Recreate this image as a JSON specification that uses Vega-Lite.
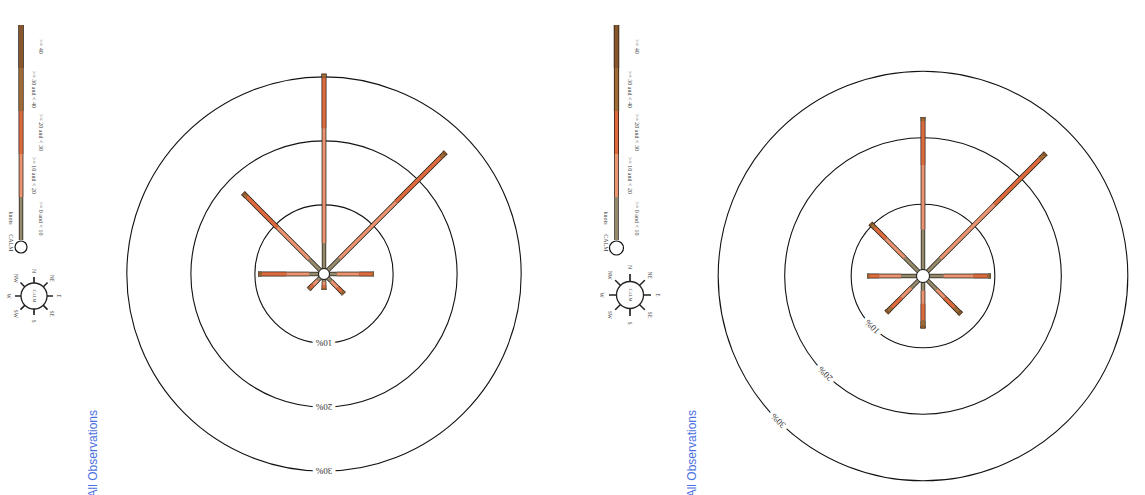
{
"$schema":"https://vega.github.io/schema/vega-lite/v6.json",
"padding":0,"spacing":0,"bounds":"flush","background":"white",
"config":{"view":{"stroke":null}},
"datasets":{
"rings":[{"ring":10,"lab":"10%"},{"ring":20,"lab":"20%"},{"ring":30,"lab":"30%"}],
"dirs":[{"dir":"N","deg":0},{"dir":"NE","deg":45},{"dir":"E","deg":90},{"dir":"SE","deg":135},{"dir":"S","deg":180},{"dir":"SW","deg":225},{"dir":"W","deg":270},{"dir":"NW","deg":315}],
"legend":[{"band":1,"lo":0,"hi":10,"label":">= 0 and < 10"},{"band":2,"lo":10,"hi":20,"label":">= 10 and < 20"},{"band":3,"lo":20,"hi":30,"label":">= 20 and < 30"},{"band":4,"lo":30,"hi":40,"label":">= 30 and < 40"},{"band":5,"lo":40,"hi":50,"label":">= 40"}],
"rose1":[
{"dir":"N","deg":0,"band":1,"pct":4.0},{"dir":"N","deg":0,"band":2,"pct":18.0},{"dir":"N","deg":0,"band":3,"pct":7.9},{"dir":"N","deg":0,"band":4,"pct":0.4},{"dir":"N","deg":0,"band":5,"pct":0.2},
{"dir":"NE","deg":45,"band":1,"pct":2.6},{"dir":"NE","deg":45,"band":2,"pct":12.5},{"dir":"NE","deg":45,"band":3,"pct":9.9},{"dir":"NE","deg":45,"band":4,"pct":0.7},{"dir":"NE","deg":45,"band":5,"pct":0.4},
{"dir":"E","deg":90,"band":1,"pct":1.2},{"dir":"E","deg":90,"band":2,"pct":3.5},{"dir":"E","deg":90,"band":3,"pct":2.0},{"dir":"E","deg":90,"band":4,"pct":0.2},{"dir":"E","deg":90,"band":5,"pct":0.1},
{"dir":"SE","deg":135,"band":1,"pct":0.8},{"dir":"SE","deg":135,"band":2,"pct":1.4},{"dir":"SE","deg":135,"band":3,"pct":0.9},{"dir":"SE","deg":135,"band":4,"pct":0.3},{"dir":"SE","deg":135,"band":5,"pct":0.2},
{"dir":"S","deg":180,"band":1,"pct":0.4},{"dir":"S","deg":180,"band":2,"pct":0.6},{"dir":"S","deg":180,"band":3,"pct":0.4},{"dir":"S","deg":180,"band":4,"pct":0.2},{"dir":"S","deg":180,"band":5,"pct":0.1},
{"dir":"SW","deg":225,"band":1,"pct":0.6},{"dir":"SW","deg":225,"band":2,"pct":1.0},{"dir":"SW","deg":225,"band":3,"pct":0.6},{"dir":"SW","deg":225,"band":4,"pct":0.3},{"dir":"SW","deg":225,"band":5,"pct":0.1},
{"dir":"W","deg":270,"band":1,"pct":1.5},{"dir":"W","deg":270,"band":2,"pct":3.6},{"dir":"W","deg":270,"band":3,"pct":3.8},{"dir":"W","deg":270,"band":4,"pct":0.4},{"dir":"W","deg":270,"band":5,"pct":0.2},
{"dir":"NW","deg":315,"band":1,"pct":2.5},{"dir":"NW","deg":315,"band":2,"pct":7.0},{"dir":"NW","deg":315,"band":3,"pct":6.8},{"dir":"NW","deg":315,"band":4,"pct":0.5},{"dir":"NW","deg":315,"band":5,"pct":0.3}],
"rose2":[
{"dir":"N","deg":0,"band":1,"pct":6.2},{"dir":"N","deg":0,"band":2,"pct":9.7},{"dir":"N","deg":0,"band":3,"pct":6.6},{"dir":"N","deg":0,"band":4,"pct":0.4},{"dir":"N","deg":0,"band":5,"pct":0.2},
{"dir":"NE","deg":45,"band":1,"pct":2.9},{"dir":"NE","deg":45,"band":2,"pct":11.5},{"dir":"NE","deg":45,"band":3,"pct":9.7},{"dir":"NE","deg":45,"band":4,"pct":0.8},{"dir":"NE","deg":45,"band":5,"pct":0.4},
{"dir":"E","deg":90,"band":1,"pct":2.3},{"dir":"E","deg":90,"band":2,"pct":4.5},{"dir":"E","deg":90,"band":3,"pct":2.1},{"dir":"E","deg":90,"band":4,"pct":0.3},{"dir":"E","deg":90,"band":5,"pct":0.2},
{"dir":"SE","deg":135,"band":1,"pct":2.1},{"dir":"SE","deg":135,"band":2,"pct":1.7},{"dir":"SE","deg":135,"band":3,"pct":2.1},{"dir":"SE","deg":135,"band":4,"pct":0.9},{"dir":"SE","deg":135,"band":5,"pct":0.5},
{"dir":"S","deg":180,"band":1,"pct":1.4},{"dir":"S","deg":180,"band":2,"pct":2.0},{"dir":"S","deg":180,"band":3,"pct":2.5},{"dir":"S","deg":180,"band":4,"pct":0.8},{"dir":"S","deg":180,"band":5,"pct":0.4},
{"dir":"SW","deg":225,"band":1,"pct":1.7},{"dir":"SW","deg":225,"band":2,"pct":2.1},{"dir":"SW","deg":225,"band":3,"pct":2.1},{"dir":"SW","deg":225,"band":4,"pct":0.7},{"dir":"SW","deg":225,"band":5,"pct":0.4},
{"dir":"W","deg":270,"band":1,"pct":2.5},{"dir":"W","deg":270,"band":2,"pct":3.3},{"dir":"W","deg":270,"band":3,"pct":1.5},{"dir":"W","deg":270,"band":4,"pct":0.2},{"dir":"W","deg":270,"band":5,"pct":0.1},
{"dir":"NW","deg":315,"band":1,"pct":3.1},{"dir":"NW","deg":315,"band":2,"pct":4.0},{"dir":"NW","deg":315,"band":3,"pct":2.4},{"dir":"NW","deg":315,"band":4,"pct":0.6},{"dir":"NW","deg":315,"band":5,"pct":0.3}]
},
"hconcat":[
{"width":590,"height":495,
 "resolve":{"scale":{"y":"independent"}},
 "layer":[
  {"layer":[
   {"data":{"name":"rings"},
    "transform":[{"calculate":"datum.ring+0.8","as":"rr"}],
    "mark":{"type":"arc","theta":0,"theta2":6.2832,"fill":"transparent","stroke":"#111","strokeWidth":1.1},
    "encoding":{
     "x":{"datum":0,"type":"quantitative","scale":{"domain":[-50.625,41.5625],"nice":false,"zero":false},"axis":null},
     "y":{"datum":0,"type":"quantitative","scale":{"domain":[-34.53,42.8125],"nice":false,"zero":false},"axis":null},
     "radius":{"field":"rr","type":"quantitative","stack":null,"scale":{"type":"linear","domain":[0,40],"range":[0,256],"zero":true},"legend":null}}},
   {"data":{"name":"rings"},
    "transform":[{"calculate":"0","as":"lx"},{"calculate":"-(datum.ring+0.8)","as":"ly"}],
    "mark":{"type":"text","angle":180,"font":"Liberation Serif","fontSize":9,"fill":"white","stroke":"white","strokeWidth":7,"align":"center","baseline":"middle"},
    "encoding":{
     "x":{"field":"lx","type":"quantitative","scale":{"domain":[-50.625,41.5625],"nice":false,"zero":false},"axis":null},
     "y":{"field":"ly","type":"quantitative","scale":{"domain":[-34.53,42.8125],"nice":false,"zero":false},"axis":null},
     "text":{"field":"lab"}}},
   {"data":{"name":"rings"},
    "transform":[{"calculate":"0","as":"lx"},{"calculate":"-(datum.ring+0.8)","as":"ly"}],
    "mark":{"type":"text","angle":180,"font":"Liberation Serif","fontSize":9,"fill":"#333","align":"center","baseline":"middle"},
    "encoding":{
     "x":{"field":"lx","type":"quantitative","scale":{"domain":[-50.625,41.5625],"nice":false,"zero":false},"axis":null},
     "y":{"field":"ly","type":"quantitative","scale":{"domain":[-34.53,42.8125],"nice":false,"zero":false},"axis":null},
     "text":{"field":"lab"}}},
   {"data":{"name":"rose1"},
    "transform":[
     {"stack":"pct","groupby":["dir"],"sort":[{"field":"band"}],"as":["p0","p1"]},
     {"calculate":"(datum.p0+0.8)*sin(datum.deg*PI/180)","as":"x0"},
     {"calculate":"(datum.p0+0.8)*cos(datum.deg*PI/180)","as":"y0"},
     {"calculate":"(datum.p1+0.8)*sin(datum.deg*PI/180)","as":"x1"},
     {"calculate":"(datum.p1+0.8)*cos(datum.deg*PI/180)","as":"y1"},
     {"calculate":"datum.band+10","as":"bandO"}],
    "layer":[
     {"mark":{"type":"rule","strokeCap":"butt","color":"#1a1410"},
      "encoding":{
       "x":{"field":"x0","type":"quantitative","scale":{"domain":[-50.625,41.5625],"nice":false,"zero":false},"axis":null},
       "y":{"field":"y0","type":"quantitative","scale":{"domain":[-34.53,42.8125],"nice":false,"zero":false},"axis":null},
       "x2":{"field":"x1"},"y2":{"field":"y1"},
       "strokeWidth":{"field":"bandO","type":"ordinal","scale":{"domain":[1,2,3,4,5,11,12,13,14,15],"range":[3,5.5,8.5,12,14.5,4.6,7.1,10.1,13.6,16.1]},"legend":null}}},
     {"mark":{"type":"rule","strokeCap":"butt"},
      "encoding":{
       "x":{"field":"x0","type":"quantitative","scale":{"domain":[-50.625,41.5625],"nice":false,"zero":false},"axis":null},
       "y":{"field":"y0","type":"quantitative","scale":{"domain":[-34.53,42.8125],"nice":false,"zero":false},"axis":null},
       "x2":{"field":"x1"},"y2":{"field":"y1"},
       "strokeWidth":{"field":"band","type":"ordinal","scale":{"domain":[1,2,3,4,5,11,12,13,14,15],"range":[3,5.5,8.5,12,14.5,4.6,7.1,10.1,13.6,16.1]},"legend":null},
       "color":{"field":"band","type":"ordinal","scale":{"domain":[1,2,3,4,5],"range":["#958a6c","#eb9470","#dc6a3c","#a06a35","#87562b"]},"legend":null}}}]},
   {"data":{"values":[{"c":1}]},
    "mark":{"type":"point","shape":"circle","size":121,"filled":true,"fill":"white","stroke":"#111","strokeWidth":1,"opacity":1},
    "encoding":{
     "x":{"datum":0,"type":"quantitative","scale":{"domain":[-50.625,41.5625],"nice":false,"zero":false},"axis":null},
     "y":{"datum":0,"type":"quantitative","scale":{"domain":[-34.53,42.8125],"nice":false,"zero":false},"axis":null}}},
   {"data":{"name":"dirs"},
    "mark":{"type":"point","shape":"stroke","size":1444,"strokeWidth":1.2,"color":"#222","opacity":1},
    "encoding":{
     "x":{"datum":-45.31,"type":"quantitative","scale":{"domain":[-50.625,41.5625],"nice":false,"zero":false},"axis":null},
     "y":{"datum":-3.44,"type":"quantitative","scale":{"domain":[-34.53,42.8125],"nice":false,"zero":false},"axis":null},
     "angle":{"field":"deg","type":"quantitative","scale":{"domain":[0,360],"range":[90,450]},"legend":null}}},
   {"data":{"values":[{"c":1}]},
    "mark":{"type":"point","shape":"circle","size":676,"filled":true,"fill":"white","stroke":"#222","strokeWidth":1.3,"opacity":1},
    "encoding":{
     "x":{"datum":-45.31,"type":"quantitative","scale":{"domain":[-50.625,41.5625],"nice":false,"zero":false},"axis":null},
     "y":{"datum":-3.44,"type":"quantitative","scale":{"domain":[-34.53,42.8125],"nice":false,"zero":false},"axis":null}}},
   {"data":{"name":"dirs"},
    "mark":{"type":"text","radius":25,"angle":90,"fontSize":5.5,"font":"Liberation Serif","color":"#444","align":"center","baseline":"middle"},
    "encoding":{
     "x":{"datum":-45.31,"type":"quantitative","scale":{"domain":[-50.625,41.5625],"nice":false,"zero":false},"axis":null},
     "y":{"datum":-3.44,"type":"quantitative","scale":{"domain":[-34.53,42.8125],"nice":false,"zero":false},"axis":null},
     "theta":{"field":"deg","type":"quantitative","stack":null,"scale":{"domain":[0,360],"range":[0,6.2832]}},
     "text":{"field":"dir"}}},
   {"data":{"values":[{"t":"CALM"}]},
    "mark":{"type":"text","angle":90,"fontSize":4.5,"font":"Liberation Serif","color":"#555","align":"center","baseline":"middle"},
    "encoding":{
     "x":{"datum":-45.31,"type":"quantitative","scale":{"domain":[-50.625,41.5625],"nice":false,"zero":false},"axis":null},
     "y":{"datum":-3.44,"type":"quantitative","scale":{"domain":[-34.53,42.8125],"nice":false,"zero":false},"axis":null},
     "text":{"field":"t"}}},
   {"data":{"values":[{"t":"All Observations"}]},
    "mark":{"type":"text","angle":270,"fontSize":12,"font":"Liberation Sans","color":"#4a6fe0","align":"right","baseline":"middle"},
    "encoding":{
     "x":{"datum":-36.1,"type":"quantitative","scale":{"domain":[-50.625,41.5625],"nice":false,"zero":false},"axis":null},
     "y":{"datum":-21.25,"type":"quantitative","scale":{"domain":[-34.53,42.8125],"nice":false,"zero":false},"axis":null},
     "text":{"field":"t"}}}
  ]},
  {"data":{"name":"legend"},
   "transform":[{"calculate":"(datum.lo+datum.hi)/2","as":"mid"},{"calculate":"datum.band+10","as":"bandO"}],
   "layer":[
    {"mark":{"type":"rule","strokeCap":"butt","color":"#1a1410"},
     "encoding":{
      "x":{"datum":-47.34,"type":"quantitative","scale":{"domain":[-50.625,41.5625],"nice":false,"zero":false},"axis":null},
      "y":{"field":"lo","type":"quantitative","scale":{"domain":[0,50],"range":[240,25],"nice":false,"zero":false},"axis":null},
      "y2":{"field":"hi"},
      "strokeWidth":{"field":"bandO","type":"ordinal","scale":{"domain":[1,2,3,4,5,11,12,13,14,15],"range":[3,5.5,8.5,12,14.5,4.6,7.1,10.1,13.6,16.1]},"legend":null}}},
    {"mark":{"type":"rule","strokeCap":"butt"},
     "encoding":{
      "x":{"datum":-47.34,"type":"quantitative","scale":{"domain":[-50.625,41.5625],"nice":false,"zero":false},"axis":null},
      "y":{"field":"lo","type":"quantitative","scale":{"domain":[0,50],"range":[240,25],"nice":false,"zero":false},"axis":null},
      "y2":{"field":"hi"},
      "strokeWidth":{"field":"band","type":"ordinal","scale":{"domain":[1,2,3,4,5,11,12,13,14,15],"range":[3,5.5,8.5,12,14.5,4.6,7.1,10.1,13.6,16.1]},"legend":null},
      "color":{"field":"band","type":"ordinal","scale":{"domain":[1,2,3,4,5],"range":["#958a6c","#eb9470","#dc6a3c","#a06a35","#87562b"]},"legend":null}}},
    {"transform":[{"filter":"datum.band % 2 == 1"}],
     "mark":{"type":"text","angle":90,"fontSize":6,"font":"Liberation Serif","color":"#444","align":"center","baseline":"middle"},
     "encoding":{
      "x":{"datum":-44.22,"type":"quantitative","scale":{"domain":[-50.625,41.5625],"nice":false,"zero":false},"axis":null},
      "y":{"field":"mid","type":"quantitative","scale":{"domain":[0,50],"range":[240,25],"nice":false,"zero":false},"axis":null},
      "text":{"field":"label"}}},
    {"transform":[{"filter":"datum.band % 2 == 0"}],
     "mark":{"type":"text","angle":90,"fontSize":6,"font":"Liberation Serif","color":"#444","align":"center","baseline":"middle"},
     "encoding":{
      "x":{"datum":-45.31,"type":"quantitative","scale":{"domain":[-50.625,41.5625],"nice":false,"zero":false},"axis":null},
      "y":{"field":"mid","type":"quantitative","scale":{"domain":[0,50],"range":[240,25],"nice":false,"zero":false},"axis":null},
      "text":{"field":"label"}}},
    {"data":{"values":[{"c":1}]},
     "mark":{"type":"point","shape":"circle","size":144,"filled":true,"fill":"white","stroke":"#111","strokeWidth":1.2,"opacity":1},
     "encoding":{
      "x":{"datum":-47.34,"type":"quantitative","scale":{"domain":[-50.625,41.5625],"nice":false,"zero":false},"axis":null},
      "y":{"datum":-1.63,"type":"quantitative","scale":{"domain":[0,50],"range":[240,25],"nice":false,"zero":false},"axis":null}}},
    {"data":{"values":[{"t":"knots","yy":5.1},{"t":"CALM","yy":-0.7}]},
     "mark":{"type":"text","angle":90,"fontSize":6,"font":"Liberation Serif","color":"#444","align":"center","baseline":"middle"},
     "encoding":{
      "x":{"datum":-48.91,"type":"quantitative","scale":{"domain":[-50.625,41.5625],"nice":false,"zero":false},"axis":null},
      "y":{"field":"yy","type":"quantitative","scale":{"domain":[0,50],"range":[240,25],"nice":false,"zero":false},"axis":null},
      "text":{"field":"t"}}}
   ]}
 ]},
{"width":555,"height":495,
 "resolve":{"scale":{"y":"independent"}},
 "layer":[
  {"layer":[
   {"data":{"name":"rings"},
    "transform":[{"calculate":"datum.ring+0.8","as":"rr"}],
    "mark":{"type":"arc","theta":0,"theta2":6.2832,"fill":"transparent","stroke":"#111","strokeWidth":1.1},
    "encoding":{
     "x":{"datum":0,"type":"quantitative","scale":{"domain":[-50.075,33.383],"nice":false,"zero":false},"axis":null},
     "y":{"datum":0,"type":"quantitative","scale":{"domain":[-32.932,41.504],"nice":false,"zero":false},"axis":null},
     "radius":{"field":"rr","type":"quantitative","stack":null,"scale":{"type":"linear","domain":[0,40],"range":[0,266],"zero":true},"legend":null}}},
   {"data":{"name":"rings"},
    "transform":[{"calculate":"-(datum.ring+0.8)*0.7071","as":"lx"},{"calculate":"-(datum.ring+0.8)*0.7071","as":"ly"}],
    "mark":{"type":"text","angle":225,"font":"Liberation Serif","fontSize":9,"fill":"white","stroke":"white","strokeWidth":7,"align":"center","baseline":"middle"},
    "encoding":{
     "x":{"field":"lx","type":"quantitative","scale":{"domain":[-50.075,33.383],"nice":false,"zero":false},"axis":null},
     "y":{"field":"ly","type":"quantitative","scale":{"domain":[-32.932,41.504],"nice":false,"zero":false},"axis":null},
     "text":{"field":"lab"}}},
   {"data":{"name":"rings"},
    "transform":[{"calculate":"-(datum.ring+0.8)*0.7071","as":"lx"},{"calculate":"-(datum.ring+0.8)*0.7071","as":"ly"}],
    "mark":{"type":"text","angle":225,"font":"Liberation Serif","fontSize":9,"fill":"#333","align":"center","baseline":"middle"},
    "encoding":{
     "x":{"field":"lx","type":"quantitative","scale":{"domain":[-50.075,33.383],"nice":false,"zero":false},"axis":null},
     "y":{"field":"ly","type":"quantitative","scale":{"domain":[-32.932,41.504],"nice":false,"zero":false},"axis":null},
     "text":{"field":"lab"}}},
   {"data":{"name":"rose2"},
    "transform":[
     {"stack":"pct","groupby":["dir"],"sort":[{"field":"band"}],"as":["p0","p1"]},
     {"calculate":"(datum.p0+0.8)*sin(datum.deg*PI/180)","as":"x0"},
     {"calculate":"(datum.p0+0.8)*cos(datum.deg*PI/180)","as":"y0"},
     {"calculate":"(datum.p1+0.8)*sin(datum.deg*PI/180)","as":"x1"},
     {"calculate":"(datum.p1+0.8)*cos(datum.deg*PI/180)","as":"y1"},
     {"calculate":"datum.band+10","as":"bandO"}],
    "layer":[
     {"mark":{"type":"rule","strokeCap":"butt","color":"#1a1410"},
      "encoding":{
       "x":{"field":"x0","type":"quantitative","scale":{"domain":[-50.075,33.383],"nice":false,"zero":false},"axis":null},
       "y":{"field":"y0","type":"quantitative","scale":{"domain":[-32.932,41.504],"nice":false,"zero":false},"axis":null},
       "x2":{"field":"x1"},"y2":{"field":"y1"},
       "strokeWidth":{"field":"bandO","type":"ordinal","scale":{"domain":[1,2,3,4,5,11,12,13,14,15],"range":[3,5.5,8.5,12,14.5,4.6,7.1,10.1,13.6,16.1]},"legend":null}}},
     {"mark":{"type":"rule","strokeCap":"butt"},
      "encoding":{
       "x":{"field":"x0","type":"quantitative","scale":{"domain":[-50.075,33.383],"nice":false,"zero":false},"axis":null},
       "y":{"field":"y0","type":"quantitative","scale":{"domain":[-32.932,41.504],"nice":false,"zero":false},"axis":null},
       "x2":{"field":"x1"},"y2":{"field":"y1"},
       "strokeWidth":{"field":"band","type":"ordinal","scale":{"domain":[1,2,3,4,5,11,12,13,14,15],"range":[3,5.5,8.5,12,14.5,4.6,7.1,10.1,13.6,16.1]},"legend":null},
       "color":{"field":"band","type":"ordinal","scale":{"domain":[1,2,3,4,5],"range":["#958a6c","#eb9470","#dc6a3c","#a06a35","#87562b"]},"legend":null}}}]},
   {"data":{"values":[{"c":1}]},
    "mark":{"type":"point","shape":"circle","size":169,"filled":true,"fill":"white","stroke":"#111","strokeWidth":1,"opacity":1},
    "encoding":{
     "x":{"datum":0,"type":"quantitative","scale":{"domain":[-50.075,33.383],"nice":false,"zero":false},"axis":null},
     "y":{"datum":0,"type":"quantitative","scale":{"domain":[-32.932,41.504],"nice":false,"zero":false},"axis":null}}},
   {"data":{"name":"dirs"},
    "mark":{"type":"point","shape":"stroke","size":1764,"strokeWidth":1.2,"color":"#222","opacity":1},
    "encoding":{
     "x":{"datum":-44.06,"type":"quantitative","scale":{"domain":[-50.075,33.383],"nice":false,"zero":false},"axis":null},
     "y":{"datum":-2.86,"type":"quantitative","scale":{"domain":[-32.932,41.504],"nice":false,"zero":false},"axis":null},
     "angle":{"field":"deg","type":"quantitative","scale":{"domain":[0,360],"range":[90,450]},"legend":null}}},
   {"data":{"values":[{"c":1}]},
    "mark":{"type":"point","shape":"circle","size":729,"filled":true,"fill":"white","stroke":"#222","strokeWidth":1.3,"opacity":1},
    "encoding":{
     "x":{"datum":-44.06,"type":"quantitative","scale":{"domain":[-50.075,33.383],"nice":false,"zero":false},"axis":null},
     "y":{"datum":-2.86,"type":"quantitative","scale":{"domain":[-32.932,41.504],"nice":false,"zero":false},"axis":null}}},
   {"data":{"name":"dirs"},
    "mark":{"type":"text","radius":28,"angle":90,"fontSize":5.5,"font":"Liberation Serif","color":"#444","align":"center","baseline":"middle"},
    "encoding":{
     "x":{"datum":-44.06,"type":"quantitative","scale":{"domain":[-50.075,33.383],"nice":false,"zero":false},"axis":null},
     "y":{"datum":-2.86,"type":"quantitative","scale":{"domain":[-32.932,41.504],"nice":false,"zero":false},"axis":null},
     "theta":{"field":"deg","type":"quantitative","stack":null,"scale":{"domain":[0,360],"range":[0,6.2832]}},
     "text":{"field":"dir"}}},
   {"data":{"values":[{"t":"CALM"}]},
    "mark":{"type":"text","angle":90,"fontSize":4.5,"font":"Liberation Serif","color":"#555","align":"center","baseline":"middle"},
    "encoding":{
     "x":{"datum":-44.06,"type":"quantitative","scale":{"domain":[-50.075,33.383],"nice":false,"zero":false},"axis":null},
     "y":{"datum":-2.86,"type":"quantitative","scale":{"domain":[-32.932,41.504],"nice":false,"zero":false},"axis":null},
     "text":{"field":"t"}}},
   {"data":{"values":[{"t":"All Observations"}]},
    "mark":{"type":"text","angle":270,"fontSize":12,"font":"Liberation Sans","color":"#4a6fe0","align":"right","baseline":"middle"},
    "encoding":{
     "x":{"datum":-34.74,"type":"quantitative","scale":{"domain":[-50.075,33.383],"nice":false,"zero":false},"axis":null},
     "y":{"datum":-20.15,"type":"quantitative","scale":{"domain":[-32.932,41.504],"nice":false,"zero":false},"axis":null},
     "text":{"field":"t"}}}
  ]},
  {"data":{"name":"legend"},
   "transform":[{"calculate":"(datum.lo+datum.hi)/2","as":"mid"},{"calculate":"datum.band+10","as":"bandO"}],
   "layer":[
    {"mark":{"type":"rule","strokeCap":"butt","color":"#1a1410"},
     "encoding":{
      "x":{"datum":-46.09,"type":"quantitative","scale":{"domain":[-50.075,33.383],"nice":false,"zero":false},"axis":null},
      "y":{"field":"lo","type":"quantitative","scale":{"domain":[0,50],"range":[240,25],"nice":false,"zero":false},"axis":null},
      "y2":{"field":"hi"},
      "strokeWidth":{"field":"bandO","type":"ordinal","scale":{"domain":[1,2,3,4,5,11,12,13,14,15],"range":[3,5.5,8.5,12,14.5,4.6,7.1,10.1,13.6,16.1]},"legend":null}}},
    {"mark":{"type":"rule","strokeCap":"butt"},
     "encoding":{
      "x":{"datum":-46.09,"type":"quantitative","scale":{"domain":[-50.075,33.383],"nice":false,"zero":false},"axis":null},
      "y":{"field":"lo","type":"quantitative","scale":{"domain":[0,50],"range":[240,25],"nice":false,"zero":false},"axis":null},
      "y2":{"field":"hi"},
      "strokeWidth":{"field":"band","type":"ordinal","scale":{"domain":[1,2,3,4,5,11,12,13,14,15],"range":[3,5.5,8.5,12,14.5,4.6,7.1,10.1,13.6,16.1]},"legend":null},
      "color":{"field":"band","type":"ordinal","scale":{"domain":[1,2,3,4,5],"range":["#958a6c","#eb9470","#dc6a3c","#a06a35","#87562b"]},"legend":null}}},
    {"transform":[{"filter":"datum.band % 2 == 1"}],
     "mark":{"type":"text","angle":90,"fontSize":6,"font":"Liberation Serif","color":"#444","align":"center","baseline":"middle"},
     "encoding":{
      "x":{"datum":-43.01,"type":"quantitative","scale":{"domain":[-50.075,33.383],"nice":false,"zero":false},"axis":null},
      "y":{"field":"mid","type":"quantitative","scale":{"domain":[0,50],"range":[240,25],"nice":false,"zero":false},"axis":null},
      "text":{"field":"label"}}},
    {"transform":[{"filter":"datum.band % 2 == 0"}],
     "mark":{"type":"text","angle":90,"fontSize":6,"font":"Liberation Serif","color":"#444","align":"center","baseline":"middle"},
     "encoding":{
      "x":{"datum":-44.06,"type":"quantitative","scale":{"domain":[-50.075,33.383],"nice":false,"zero":false},"axis":null},
      "y":{"field":"mid","type":"quantitative","scale":{"domain":[0,50],"range":[240,25],"nice":false,"zero":false},"axis":null},
      "text":{"field":"label"}}},
    {"data":{"values":[{"c":1}]},
     "mark":{"type":"point","shape":"circle","size":196,"filled":true,"fill":"white","stroke":"#111","strokeWidth":1.2,"opacity":1},
     "encoding":{
      "x":{"datum":-46.09,"type":"quantitative","scale":{"domain":[-50.075,33.383],"nice":false,"zero":false},"axis":null},
      "y":{"datum":-1.86,"type":"quantitative","scale":{"domain":[0,50],"range":[240,25],"nice":false,"zero":false},"axis":null}}},
    {"data":{"values":[{"t":"knots","yy":5.1},{"t":"CALM","yy":-0.7}]},
     "mark":{"type":"text","angle":90,"fontSize":6,"font":"Liberation Serif","color":"#444","align":"center","baseline":"middle"},
     "encoding":{
      "x":{"datum":-47.6,"type":"quantitative","scale":{"domain":[-50.075,33.383],"nice":false,"zero":false},"axis":null},
      "y":{"field":"yy","type":"quantitative","scale":{"domain":[0,50],"range":[240,25],"nice":false,"zero":false},"axis":null},
      "text":{"field":"t"}}}
   ]}
 ]}
]
}
